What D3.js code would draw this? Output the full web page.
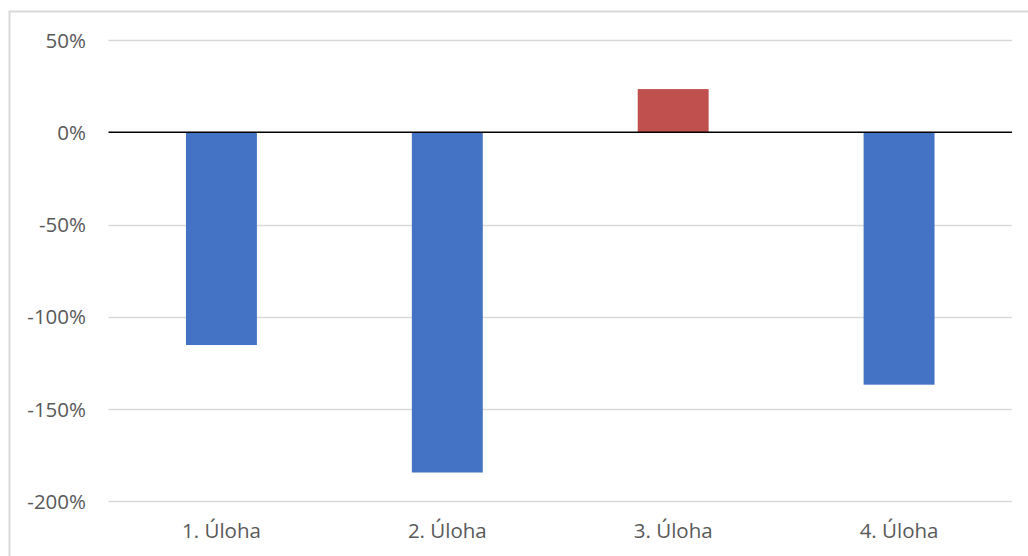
<!DOCTYPE html>
<html>
<head>
<meta charset="utf-8">
<script src="https://cdn.jsdelivr.net/npm/d3@7"></script>
<style>
html,body{margin:0;padding:0;background:#fff;}
svg{display:block;}
text{font-family:"Open Sans",sans-serif;fill:#595959;}
</style>
</head>
<body>
<svg id="chart" width="1028" height="556"></svg>
<script>
const categories = ["1. Úloha", "2. Úloha", "3. Úloha", "4. Úloha"];
const values = [-115.3, -184.4, 23.4, -136.8];
const tickValues = [50, 0, -50, -100, -150, -200];

(function () {
const svg = d3.select("#chart");
const pLeft = 108.5, pRight = 1012, pTop = 40, pBottom = 501.3;
const fs = 20.5;

// chart border
svg.append("rect").attr("x", 9.5).attr("y", 11.5).attr("width", 1030).attr("height", 560)
  .attr("fill", "#fff").attr("stroke", "#d9d9d9").attr("stroke-width", 2);

const x = d3.scaleBand().domain(categories).range([pLeft, pRight]).paddingInner(0.686).paddingOuter(0.343);
const y = d3.scaleLinear().domain([-200, 50]).range([pBottom, pTop]);

// gridlines
svg.append("g").selectAll("line").data(tickValues.filter(d => d !== 0)).join("line")
  .attr("x1", pLeft).attr("x2", pRight)
  .attr("y1", d => Math.round(y(d)) + 0.5).attr("y2", d => Math.round(y(d)) + 0.5)
  .attr("stroke", "#d9d9d9").attr("stroke-width", 1.5);

// y axis labels
const yAxis = d3.axisLeft(y).tickValues(tickValues).tickFormat(d => d + "%").tickSize(0).tickPadding(0);
const ga = svg.append("g").attr("transform", "translate(86,0)").call(yAxis);
ga.select(".domain").remove();
ga.selectAll("text").attr("font-size", fs).attr("font-family", "Open Sans, sans-serif").attr("fill", "#595959").attr("dy", "0.35em");

// bars
svg.append("g").selectAll("rect").data(values).join("rect")
  .attr("x", (d, i) => x(categories[i]))
  .attr("width", x.bandwidth())
  .attr("y", d => y(Math.max(0, d)))
  .attr("height", d => Math.abs(y(d) - y(0)))
  .attr("fill", d => d < 0 ? "#4472c4" : "#c0504d");

// zero line
svg.append("line").attr("x1", pLeft).attr("x2", pRight)
  .attr("y1", y(0)).attr("y2", y(0)).attr("stroke", "#000").attr("stroke-width", 1.5);

// category labels
const xAxis = d3.axisBottom(x).tickSize(0).tickPadding(0);
const gx = svg.append("g").attr("transform", "translate(0,531)").call(xAxis);
gx.select(".domain").remove();
gx.selectAll("text").attr("font-size", fs).attr("font-family", "Open Sans, sans-serif").attr("fill", "#595959").attr("dy", "0.35em");
})();
</script>
</body>
</html>
